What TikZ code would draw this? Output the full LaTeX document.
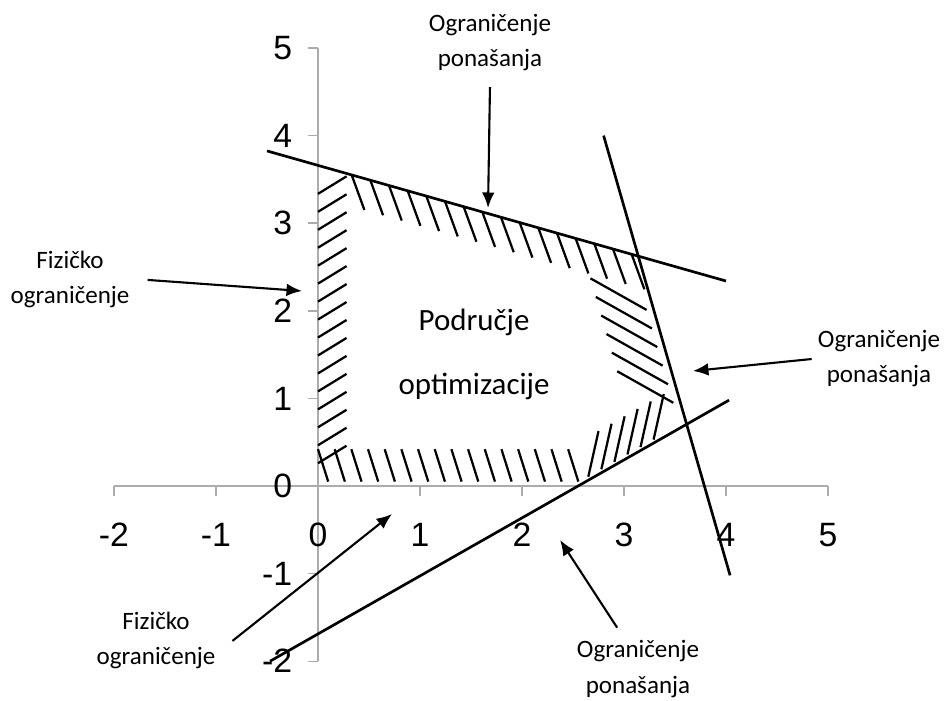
\documentclass[tikz,border=0pt]{standalone}
\usepackage{fontspec}
\setmainfont{Carlito}
\newfontfamily\axisfont{Liberation Sans}
\usetikzlibrary{arrows.meta}

\tikzset{
  axisline/.style={draw=gray!65, line width=1pt},
  constraint/.style={line width=1.9pt},
  hatch/.style={line width=1.6pt},
  ptr/.style={-{Latex[length=11pt,width=9pt]}, line width=1.5pt},
  lbl/.style={align=center, inner sep=0pt, anchor=base, font=\fontsize{17.8}{24.9}\selectfont},
  ticklbl/.style={inner sep=0pt, font=\axisfont\fontsize{24}{24}\selectfont},
}

\begin{document}
\begin{tikzpicture}[x=2.55cm, y=2.19cm]
\useasboundingbox (-3.1176,-2.4429) rectangle (6.1471,5.5479);

% Axes
\draw[axisline] (-2,0) -- (5,0);
\draw[axisline] (0,-2) -- (0,5);
\foreach \i in {-2,...,5} {
  \draw[axisline] (\i,0) -- (\i,-0.114);
  \draw[axisline] (0,\i) -- (-0.098,\i);
  \node[ticklbl] (xl\i) at (\i,-0.56) {\i};
  \node[ticklbl, anchor=east] (yl\i) at (-0.25,\i) {\i};
}

% Constraint lines
\draw[constraint] (-0.5,3.825) -- (4,2.34);
\draw[constraint] (2.8,4) -- (4.04,-1.02);
\draw[constraint] (-0.47,-2) -- (4.03,0.98);

% Hatching
\foreach \i in {0,...,15} {
  \draw[hatch] (0,0.26+0.205*\i) -- ++(0.28,0.2);
  \draw[hatch] (0.33+0.183*\i,3.66-0.33*0.33-0.33*0.183*\i) -- ++(0.125,-0.4);
  \draw[hatch] (0.1635*\i,0.42) -- ++(0.1,-0.37);
}
\foreach \i in {0,...,5} {
  \draw[hatch] (3.2215+0.0524*\i,2.01-0.212*\i) -- ++(-0.55,0.36);
  \draw[hatch] (2.65+0.128*\i,0.106+0.0847*\i) -- ++(0.1,0.52);
}

% Labels (base = last line)
\node[lbl] (toplbl) at (1.686,4.787) {Ograničenje\\ponašanja};
\node[lbl] (leftlbl) at (-2.431,2.078) {Fizičko\\ograničenje};
\node[lbl] (rightlbl) at (5.5,1.176) {Ograničenje\\ponašanja};
\node[lbl] (blbl) at (-1.588,-2.043) {Fizičko\\ograničenje};
\node[lbl] (bolbl) at (3.137,-2.363) {Ograničenje\\ponašanja};
\node[align=center, anchor=base, font=\fontsize{22}{46}\selectfont] (regionlbl) at (1.53,1.039) {Područje\\optimizacije};

% Arrows
\coordinate (toptip) at (1.667,3.174);
\coordinate (lefttip) at (-0.157,2.226);
\coordinate (righttip) at (3.676,1.313);
\coordinate (btip) at (0.725,-0.32);
\coordinate (botip) at (2.373,-0.616);
\draw[ptr] ([yshift=-0.4cm]toplbl.south) -- (toptip);
\draw[ptr] ([xshift=0.45cm]leftlbl.east) -- (lefttip);
\draw[ptr] ([xshift=-0.15cm]rightlbl.west) -- (righttip);
\draw[ptr] ([xshift=0.42cm]blbl.east) -- (btip);
\draw[ptr] ([xshift=-0.52cm,yshift=0.32cm]bolbl.north) -- (botip);

\end{tikzpicture}
\end{document}
